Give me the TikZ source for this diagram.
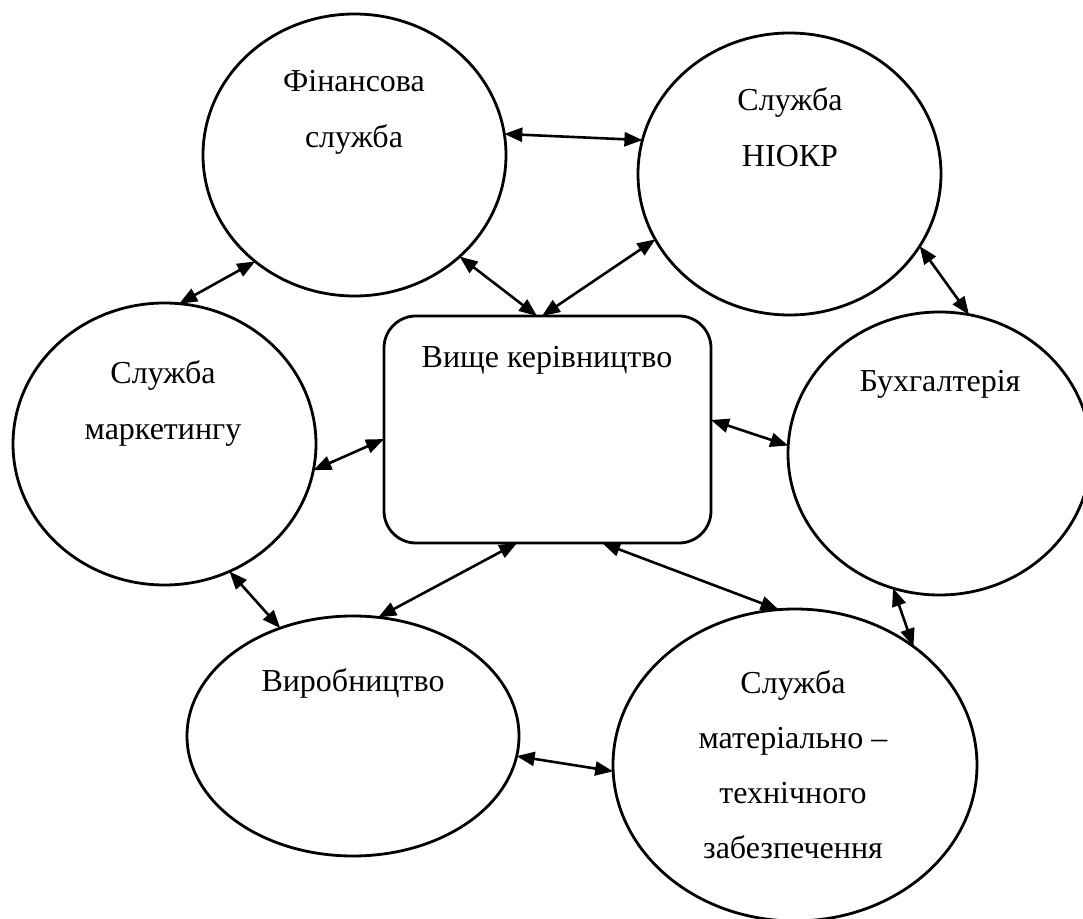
\documentclass[tikz,border=0pt]{standalone}
\usepackage{fontspec}
\setmainfont{Liberation Serif}
\usetikzlibrary{shapes.geometric,arrows.meta,calc}
\begin{document}
\begin{tikzpicture}[x=0.5pt,y=-0.5pt,
  oval/.style={ellipse,draw,line width=1.4pt,inner sep=0pt,outer sep=0pt},
  lbl/.style={font=\fontsize{16pt}{28pt}\selectfont,align=center,anchor=base,inner sep=0pt},
  conn/.style={line width=1.3pt,{Triangle[length=9pt,width=7pt]}-{Triangle[length=9pt,width=7pt]}},
  box/.style={draw,line width=1.4pt,rounded corners=16pt,minimum width=163.5pt,minimum height=113.5pt,inner sep=0pt,outer sep=0pt}]
\useasboundingbox (0,0) rectangle (1083,919);
\node[oval,minimum width=151.5pt,minimum height=141pt] (fin) at (354.5,155) {};
\node[oval,minimum width=151.5pt,minimum height=141pt] (niokr) at (789.5,174) {};
\node[oval,minimum width=151.5pt,minimum height=141pt] (mkt) at (164.5,444) {};
\node[oval,minimum width=151.5pt,minimum height=141.5pt] (buh) at (939.5,453.5) {};
\node[oval,minimum width=166pt,minimum height=120pt] (vyrob) at (353,736) {};
\node[oval,minimum width=182pt,minimum height=156pt] (mat) at (795,765) {};
\node[box] (rect) at (547.5,429.5) {};

\node[lbl] (fin-t) at (354,148) {Фінансова\\служба};
\node[lbl] (niokr-t) at (790,167) {Служба\\НІОКР};
\node[lbl] (mkt-t) at (163,440) {Служба\\маркетингу};
\node[lbl] (buh-t) at (940,392) {Бухгалтерія};
\node[lbl] (rect-t) at (547,368) {Вище керівництво};
\node[lbl] (vyrob-t) at (353,692) {Виробництво};
\node[lbl,font=\fontsize{16pt}{27.5pt}\selectfont] (mat-t) at (793,858) {Служба\\матеріально –\\технічного\\забезпечення};

\draw[conn] (fin.8.75) -- (niokr.167.8);
\draw[conn] (fin.-44.6) -- ($(rect.north west)!0.468!(rect.north east)$);
\draw[conn] (niokr.-154) -- ($(rect.north west)!0.483!(rect.north east)$);
\draw[conn] (fin.-133.2) -- (mkt.84.6);
\draw[conn] (niokr.-29.7) -- (buh.78.8);
\draw[conn] (mkt.-10.9) -- ($(rect.north west)!0.542!(rect.south west)$);
\draw[conn] ($(rect.north east)!0.458!(rect.south east)$) -- (buh.177.9);
\draw[conn] ($(rect.south west)!0.407!(rect.south east)$) -- (vyrob.78);
\draw[conn] ($(rect.south west)!0.667!(rect.south east)$) -- (mat.96.7);
\draw[conn] (mkt.-63.4) -- (vyrob.124.9);
\draw[conn] (buh.-109.1) -- (mat.45.5);
\draw[conn] (vyrob.-7.9) -- (mat.-178.7);
\end{tikzpicture}
\end{document}
